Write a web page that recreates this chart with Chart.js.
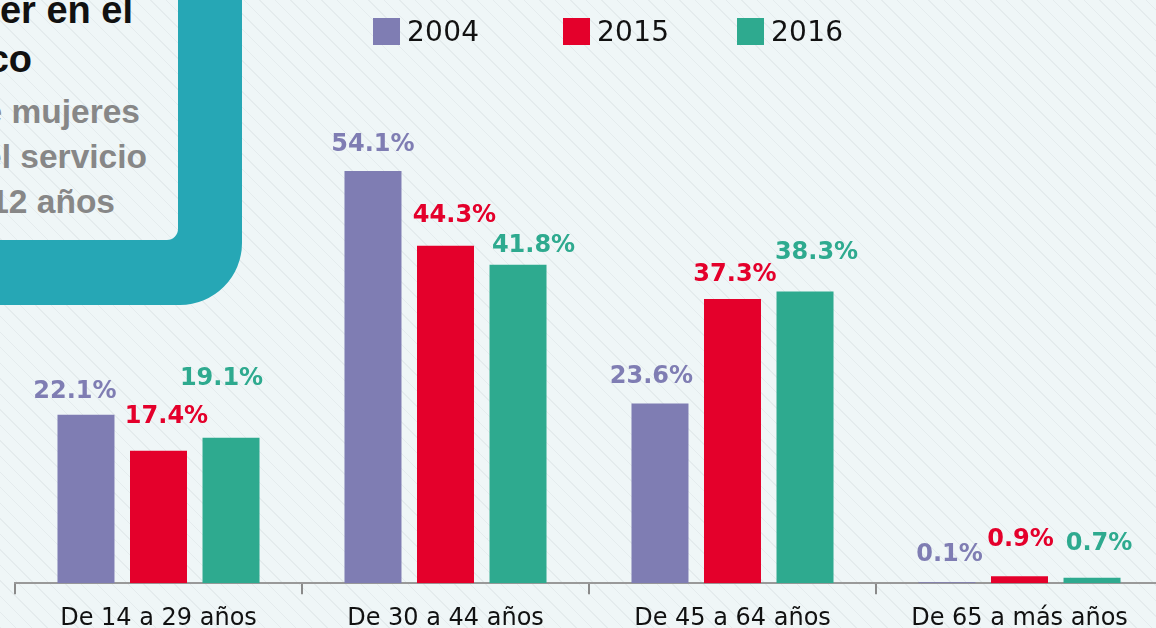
<!DOCTYPE html>
<html>
<head>
<meta charset="utf-8">
<script src="https://cdn.jsdelivr.net/npm/chart.js@4.4.1/dist/chart.umd.min.js"></script>
<style>
  html, body { margin: 0; padding: 0; width: 1156px; height: 628px; overflow: hidden; }
  body {
    background-color: #eff6f7;
    background-image: repeating-linear-gradient(45deg, rgba(190,198,202,0.22) 0px, rgba(190,198,202,0.22) 1px, transparent 1px, transparent 11px);
    position: relative;
  }
  #panel { position: absolute; left: 0; top: 0; z-index: 1; }
  #wrap { position: absolute; left: 0; top: 0; width: 1180px; height: 643px; z-index: 2; }
  #legend { position: absolute; left: 0; top: 0; width: 1156px; height: 60px; z-index: 3; font-family: "DejaVu Sans", sans-serif; }
  .item { position: absolute; top: 18px; height: 27px; display: flex; align-items: center; }
  .box { width: 27px; height: 27px; margin-right: 7px; }
  .txt { font-size: 28px; color: #111; letter-spacing: 0.3px; line-height: 27px; }
</style>
</head>
<body>
<svg id="panel" width="300" height="320" xmlns="http://www.w3.org/2000/svg">
  <path fill="#26a7b5" fill-rule="evenodd"
    d="M -20 -20 L 242 -20 L 242 243 A 62 62 0 0 1 180 305 L -20 305 Z
       M -20 -20 L 178 -20 L 178 229 A 11 11 0 0 1 167 240 L -20 240 Z"/>
  <g font-family="'Liberation Sans', Arial, sans-serif" font-weight="bold" text-anchor="end">
    <text x="133" y="23" font-size="38" fill="#111">er en el</text>
    <text x="32" y="72" font-size="38" fill="#111">co</text>
    <text x="140" y="123" font-size="33.5" fill="#878787">de mujeres</text>
    <text x="147" y="168" font-size="33.5" fill="#878787">el servicio</text>
    <text x="115" y="213" font-size="33.5" fill="#878787">12 años</text>
  </g>
</svg>
<div id="legend"></div>
<div id="wrap"><canvas id="c" width="1180" height="643"></canvas></div>
<script>
const categories = ['De 14 a 29 años', 'De 30 a 44 años', 'De 45 a 64 años', 'De 65 a más años'];
const seriesNames = ['2004', '2015', '2016'];
const values2004 = [22.1, 54.1, 23.6, 0.1];
const values2015 = [17.4, 44.3, 37.3, 0.9];
const values2016 = [19.1, 41.8, 38.3, 0.7];

const colors = ['#7f7db3', '#e4002b', '#2eaa8f'];
const seriesValues = [values2004, values2015, values2016];

// label placement tweaks (dx, distance above bar top) per series per category
const labelNudge = [
  [[-11, 26], [0, 29], [-8.5, 29.5], [2.5, 30]],
  [[8, 36], [9, 32], [2.5, 27], [1, 39]],
  [[-9.5, 61], [15.5, 21.5], [11.5, 41.5], [7, 37]]
];

// HTML legend
const legendX = [373, 563, 737];
const legendEl = document.getElementById('legend');
seriesNames.forEach((n, i) => {
  const it = document.createElement('div');
  it.className = 'item';
  it.style.left = legendX[i] + 'px';
  it.innerHTML = '<div class="box" style="background:' + colors[i] + '"></div><span class="txt">' + n + '</span>';
  legendEl.appendChild(it);
});

const valueLabels = {
  id: 'valueLabels',
  afterDatasetsDraw(chart) {
    const ctx = chart.ctx;
    ctx.save();
    ctx.font = 'bold 24px "DejaVu Sans", sans-serif';
    ctx.textAlign = 'center';
    ctx.textBaseline = 'alphabetic';
    chart.data.datasets.forEach((ds, di) => {
      const meta = chart.getDatasetMeta(di);
      meta.data.forEach((bar, i) => {
        const nd = labelNudge[di][i];
        const cy = bar.y - nd[1];
        ctx.fillStyle = colors[di];
        ctx.fillText(ds.data[i].toFixed(1) + '%', bar.x + nd[0], cy + 8.7);
      });
    });
    ctx.restore();
  }
};

new Chart(document.getElementById('c'), {
  type: 'bar',
  data: {
    labels: categories,
    datasets: seriesNames.map((n, i) => ({
      label: n,
      data: seriesValues[i],
      backgroundColor: colors[i],
      borderWidth: 0,
      minBarLength: 1,
      categoryPercentage: 0.758,
      barPercentage: 0.786
    }))
  },
  options: {
    responsive: false,
    animation: false,
    devicePixelRatio: 1,
    layout: { padding: { left: 15, right: 17, top: 50, bottom: 0 } },
    plugins: { legend: { display: false }, tooltip: { enabled: false } },
    scales: {
      y: { display: false, min: 0, max: 70 },
      x: {
        grid: { drawOnChartArea: false, drawTicks: true, tickLength: 11, color: '#8a8a8a', lineWidth: 2 },
        border: { display: true, color: '#999999', width: 2 },
        ticks: {
          color: '#111111',
          padding: 10,
          maxRotation: 0,
          autoSkip: false,
          font: { family: '"DejaVu Sans", sans-serif', size: 24 }
        }
      }
    }
  },
  plugins: [valueLabels]
});
</script>
</body>
</html>
